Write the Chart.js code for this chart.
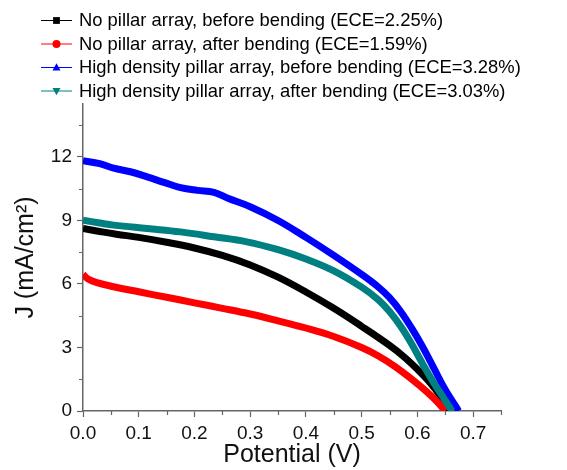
<!DOCTYPE html>
<html>
<head>
<meta charset="utf-8">
<script src="https://cdn.jsdelivr.net/npm/chart.js@4"></script>
<style>
  html, body { margin: 0; padding: 0; background: #ffffff; }
  #wrap { width: 567px; height: 470px; position: relative; }
</style>
</head>
<body>
<div id="wrap"><canvas id="jv"></canvas></div>
<script>
// J-V curves of the solar cells, potential in V and current density in mA/cm2
const seriesLabels = [
  'No pillar array, before bending (ECE=2.25%)',
  'No pillar array, after bending (ECE=1.59%)',
  'High density pillar array, before bending (ECE=3.28%)',
  'High density pillar array, after bending (ECE=3.03%)'
];
const seriesColors = ['#000000', '#ff0000', '#0000ff', '#008080'];
const seriesMarkers = ['rect', 'circle', 'triangle', 'triangleDown'];

const noPillarBeforeV = [0, 0.03, 0.06, 0.1, 0.15, 0.2, 0.25, 0.3, 0.35, 0.4, 0.45, 0.5, 0.55, 0.576, 0.6, 0.62, 0.64, 0.658];
const noPillarBeforeJ = [8.62, 8.48, 8.35, 8.2, 7.97, 7.7, 7.35, 6.9, 6.32, 5.62, 4.85, 4.0, 3.1, 2.56, 1.97, 1.42, 0.76, 0];

const noPillarAfterV = [0, 0.01, 0.025, 0.055, 0.1, 0.15, 0.2, 0.25, 0.3, 0.35, 0.4, 0.45, 0.5, 0.53, 0.56, 0.59, 0.615, 0.635, 0.65];
const noPillarAfterJ = [6.45, 6.22, 6.06, 5.87, 5.63, 5.37, 5.11, 4.85, 4.58, 4.26, 3.92, 3.52, 3.0, 2.6, 2.1, 1.5, 0.95, 0.45, 0];

const pillarBeforeV = [0, 0.03, 0.055, 0.085, 0.115, 0.145, 0.175, 0.205, 0.235, 0.26, 0.3, 0.35, 0.4, 0.45, 0.5, 0.53, 0.55, 0.57, 0.59, 0.61, 0.63, 0.65, 0.674];
const pillarBeforeJ = [11.82, 11.68, 11.47, 11.3, 11.06, 10.8, 10.55, 10.42, 10.33, 10.05, 9.65, 9.0, 8.2, 7.35, 6.45, 5.85, 5.35, 4.7, 3.9, 3.0, 2.0, 1.0, 0];

const pillarAfterV = [0, 0.03, 0.055, 0.115, 0.175, 0.235, 0.294, 0.35, 0.4, 0.45, 0.5, 0.53, 0.55, 0.57, 0.59, 0.61, 0.63, 0.645, 0.662];
const pillarAfterJ = [9.01, 8.88, 8.78, 8.62, 8.46, 8.23, 7.99, 7.62, 7.18, 6.62, 5.85, 5.25, 4.7, 4.0, 3.15, 2.2, 1.3, 0.7, 0];

// axis ticks: labelled (major) and unlabelled (minor)
const xMajorTicks = [0, 0.1, 0.2, 0.3, 0.4, 0.5, 0.6, 0.7];
const xMinorTicks = [0.05, 0.15, 0.25, 0.35, 0.45, 0.55, 0.65, 0.75];
const yMajorTicks = [0, 3, 6, 9, 12];
const yMinorTicks = [1.5, 4.5, 7.5, 10.5, 13.5];

const FONT = '"Liberation Sans", Arial, Helvetica, sans-serif';
const AXIS_COLOR = '#666666';

function toPoints(vs, js) {
  return vs.map((v, i) => ({ x: v, y: js[i] }));
}

const seriesData = [
  toPoints(noPillarBeforeV, noPillarBeforeJ),
  toPoints(noPillarAfterV, noPillarAfterJ),
  toPoints(pillarBeforeV, pillarBeforeJ),
  toPoints(pillarAfterV, pillarAfterJ)
];

const datasets = seriesData.map((pts, i) => ({
  label: seriesLabels[i],
  data: pts,
  borderColor: seriesColors[i],
  backgroundColor: seriesColors[i],
  borderWidth: 7,
  borderCapStyle: 'butt',
  borderJoinStyle: 'round',
  pointRadius: 0,
  fill: false,
  tension: 0.4,
  order: 4 - i,
  marker: seriesMarkers[i]
}));

function drawMarker(ctx, shape, x, y, r) {
  ctx.beginPath();
  if (shape === 'rect') {
    ctx.rect(x - r * 0.85, y - r * 0.85, r * 1.7, r * 1.7);
  } else if (shape === 'circle') {
    ctx.arc(x, y, r, 0, Math.PI * 2);
  } else if (shape === 'triangle') {
    ctx.moveTo(x, y - r * 1.05);
    ctx.lineTo(x + r, y + r * 0.75);
    ctx.lineTo(x - r, y + r * 0.75);
    ctx.closePath();
  } else {
    ctx.moveTo(x, y + r * 1.05);
    ctx.lineTo(x + r, y - r * 0.75);
    ctx.lineTo(x - r, y - r * 0.75);
    ctx.closePath();
  }
  ctx.fill();
}

// legend: one row per series, a short line with its marker, then the label
const legendPlugin = {
  id: 'jvLegend',
  afterDraw(chart) {
    const ctx = chart.ctx;
    ctx.save();
    ctx.font = '18.4px ' + FONT;
    ctx.textBaseline = 'middle';
    ctx.textAlign = 'left';
    chart.data.datasets.forEach((ds, i) => {
      const y = 20.5 + i * 23.5;
      ctx.strokeStyle = ds.borderColor;
      ctx.lineWidth = 1;
      ctx.beginPath();
      ctx.moveTo(41, y);
      ctx.lineTo(72, y);
      ctx.stroke();
      ctx.fillStyle = ds.borderColor;
      drawMarker(ctx, ds.marker, 56.5, y, 4);
      ctx.fillStyle = '#000000';
      ctx.fillText(ds.label, 79, y + 0.5);
    });
    ctx.restore();
  }
};

// short unlabelled ticks between the labelled ones
const minorTickPlugin = {
  id: 'minorTicks',
  afterDraw(chart) {
    const ctx = chart.ctx;
    const xs = chart.scales.x, ys = chart.scales.y;
    const area = chart.chartArea;
    ctx.save();
    ctx.strokeStyle = AXIS_COLOR;
    ctx.lineWidth = 1.2;
    ctx.beginPath();
    xMinorTicks.forEach(v => {
      const px = Math.round(xs.getPixelForValue(v)) + 0.5;
      ctx.moveTo(px, area.bottom);
      ctx.lineTo(px, area.bottom + 4);
    });
    yMinorTicks.forEach(v => {
      const py = Math.round(ys.getPixelForValue(v)) + 0.5;
      ctx.moveTo(area.left, py);
      ctx.lineTo(area.left - 4, py);
    });
    ctx.stroke();
    ctx.restore();
  }
};

new Chart(document.getElementById('jv'), {
  type: 'line',
  data: { datasets },
  options: {
    responsive: true,
    maintainAspectRatio: false,
    animation: false,
    layout: { padding: { top: 104, right: 66, left: 0, bottom: 0 } },
    plugins: {
      legend: { display: false },
      tooltip: { enabled: false }
    },
    scales: {
      x: {
        type: 'linear',
        min: 0,
        max: 0.75,
        afterBuildTicks: s => { s.ticks = xMajorTicks.map(v => ({ value: v })); },
        afterFit: s => { s.height = 59; },
        ticks: {
          font: { family: FONT, size: 19 },
          color: '#111111',
          padding: 5,
          maxRotation: 0,
          callback: v => Number(v).toFixed(1)
        },
        grid: {
          display: true,
          drawOnChartArea: false,
          drawTicks: true,
          tickLength: 6,
          tickColor: AXIS_COLOR,
          tickWidth: 1.2
        },
        border: { display: true, color: AXIS_COLOR, width: 1.5 },
        title: {
          display: true,
          text: 'Potential (V)',
          font: { family: FONT, size: 25 },
          color: '#111111',
          padding: { top: 0, bottom: 0 }
        }
      },
      y: {
        type: 'linear',
        min: 0,
        max: 14.5,
        afterBuildTicks: s => { s.ticks = yMajorTicks.map(v => ({ value: v })); },
        afterFit: s => { s.width = 83; },
        ticks: {
          font: { family: FONT, size: 19 },
          color: '#111111',
          padding: 5,
          callback: v => String(v)
        },
        grid: {
          display: true,
          drawOnChartArea: false,
          drawTicks: true,
          tickLength: 6,
          tickColor: AXIS_COLOR,
          tickWidth: 1.2
        },
        border: { display: true, color: AXIS_COLOR, width: 1.5 },
        title: {
          display: true,
          text: 'J (mA/cm²)',
          font: { family: FONT, size: 25 },
          color: '#111111',
          padding: { top: 11, bottom: 0 }
        }
      }
    }
  },
  plugins: [legendPlugin, minorTickPlugin]
});
</script>
</body>
</html>
